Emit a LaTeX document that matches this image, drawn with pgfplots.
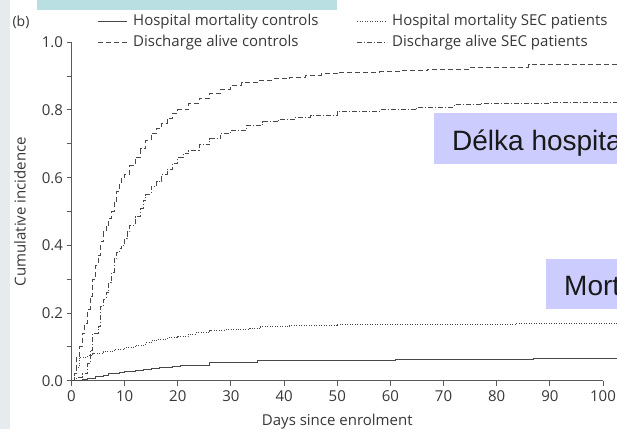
\documentclass[border=0pt]{standalone}
\usepackage{fontspec}
\setmainfont{Open Sans}
\newfontfamily\arialfont{Liberation Sans}
\usepackage{pgfplots}
\pgfplotsset{compat=1.18}
\definecolor{txt}{HTML}{383838}
\definecolor{crv}{HTML}{484848}
\definecolor{axc}{HTML}{5A5A5A}
\definecolor{teal}{HTML}{B9DFE3}
\definecolor{band}{HTML}{E6EBEE}
\definecolor{lav}{HTML}{CCCCFF}
\tikzset{
  s1/.style={color=crv, line width=1pt, solid},
  s2/.style={color=crv, line width=1pt, dash pattern=on 5pt off 3pt},
  s3/.style={color=crv, line width=1pt, dash pattern=on 1pt off 1.5pt},
  s4/.style={color=crv, line width=1pt, dash pattern=on 5pt off 2pt on 1pt off 2pt},
}
\begin{document}
\begin{tikzpicture}
\useasboundingbox (0,0) rectangle (617pt,-429pt);
\clip (0,0) rectangle (617pt,-429pt);
\begin{scope}[x=1pt,y=-1pt]
  \fill[white] (0,0) rectangle (617,429);
  \fill[band] (0,0) rectangle (10,429);
  \fill[teal] (37,0) rectangle (337,10);
  \node[text=txt, font=\fontsize{14}{16}\selectfont] at (21,22) {(b)};
\end{scope}
\begin{axis}[
  at={(71.5pt,-380.7pt)}, anchor=south west,
  scale only axis, width=531.5pt, height=338.4pt,
  xmin=0, xmax=100, ymin=0, ymax=1,
  axis lines=left,
  axis line style={-, color=axc, line width=1.2pt},
  every outer x axis line/.append style={-},
  every outer y axis line/.append style={-},
  clip=false,
  xtick={0,10,20,30,40,50,60,70,80,90,100},
  ytick={0,0.2,0.4,0.6,0.8,1},
  minor ytick={0.1,0.3,0.5,0.7,0.9},
  tick align=outside,
  major tick length=5pt, minor tick length=5pt,
  tick style={color=axc, line width=1pt},
  /pgf/number format/assume math mode=true,
  yticklabel style={/pgf/number format/.cd, fixed, fixed zerofill, precision=1},
  ticklabel style={text=txt, font=\fontsize{15}{17}\selectfont},
  xticklabel style={yshift=-1pt},
  xlabel={Days since enrolment},
  ylabel={Cumulative incidence},
  label style={text=txt, font=\fontsize{15}{17}\selectfont},
  xlabel style={at={(axis description cs:0.5,-0.12)}, anchor=center},
  ylabel style={at={(axis description cs:-0.097,0.5)}, anchor=center},
]
% Hospital mortality controls
\addplot[s1, const plot] coordinates {
(0,0) (2,0.003) (3,0.006) (4.5,0.012) (6,0.016) (7,0.02) (9,0.024) (10,0.027)
(12,0.03) (13.5,0.034) (15,0.037) (16.5,0.04) (19,0.043) (20.5,0.044) (26,0.053)
(35,0.059) (61,0.064) (87,0.066) (103,0.066)};
% Discharge alive controls
\addplot[s2, const plot] coordinates {
(0,0) (0.5,0.02) (1,0.07) (1.5,0.10) (2,0.14) (2.5,0.17) (3,0.21) (3.5,0.25)
(4,0.30) (4.5,0.34) (5,0.37) (5.5,0.41) (6,0.44) (6.5,0.46) (7,0.48) (7.5,0.50)
(8,0.53) (8.5,0.56) (9,0.58) (9.5,0.60) (10,0.61) (11,0.635) (12,0.66) (13,0.685)
(14,0.71) (15,0.73) (16,0.745) (17,0.76) (18,0.775) (19,0.79) (20,0.80) (22,0.82)
(24,0.835) (26,0.85) (28,0.862) (30,0.873) (32,0.882) (35,0.888) (38,0.892)
(41,0.896) (44,0.902) (47,0.907) (50,0.911) (58,0.913) (62,0.916) (67,0.92)
(75,0.925) (86,0.933) (103,0.933)};
% Hospital mortality SEC patients
\addplot[s3, const plot] coordinates {
(0,0) (0.5,0.02) (1,0.04) (1.5,0.07) (3,0.075) (4,0.08) (6,0.086) (8,0.092)
(10,0.098) (12,0.105) (14,0.112) (15,0.118) (16,0.122) (18,0.127) (20,0.13)
(22,0.138) (23.5,0.143) (26,0.148) (29,0.150) (31,0.152) (33.5,0.155) (35.5,0.16)
(41,0.163) (50,0.167) (83.6,0.17) (103,0.17)};
% Discharge alive SEC patients
\addplot[s4, const plot] coordinates {
(0,0) (1,0.01) (2,0.02) (3,0.05) (3.5,0.09) (4,0.14) (5,0.16) (5.5,0.22) (6,0.24)
(6.5,0.26) (7,0.29) (7.5,0.32) (8,0.36) (8.5,0.38) (9,0.39) (9.5,0.40) (10,0.42)
(10.5,0.44) (11,0.46) (12,0.485) (13,0.51) (13.5,0.534) (14,0.55) (15,0.575)
(16,0.59) (17,0.61) (18,0.625) (19,0.642) (20,0.66) (21,0.67) (22,0.68)
(24,0.697) (26,0.715) (28,0.73) (30,0.74) (33,0.755) (36,0.765) (39,0.772)
(42,0.778) (45,0.785) (50,0.795) (58,0.80) (65,0.808) (72,0.815) (77,0.82)
(90,0.823) (103,0.826)};
\end{axis}
\begin{scope}[x=1pt,y=-1pt]
  % legend
  \draw[s1] (98,21.5) -- (127,21.5);
  \draw[s2] (98,42.3) -- (127,42.3);
  \draw[s3] (357,21.5) -- (387,21.5);
  \draw[s4] (357,42.3) -- (387,42.3);
  \begin{scope}[every node/.style={anchor=west, inner sep=0pt, text=txt, font=\fontsize{15}{17}\selectfont}]
    \node at (133,21.5) {Hospital mortality controls};
    \node at (133,42.3) {Discharge alive controls};
    \node at (392,21.5) {Hospital mortality SEC patients};
    \node at (392,42.3) {Discharge alive SEC patients};
  \end{scope}
  % overlay boxes
  \fill[lav] (434,113) rectangle (640,164);
  \node[anchor=base west, inner sep=0pt, text=black!90, font=\arialfont\fontsize{28}{32}\selectfont] at (452,150) {Délka hospitalizace};
  \fill[lav] (546,259) rectangle (640,309);
  \node[anchor=base west, inner sep=0pt, text=black!90, font=\arialfont\fontsize{28}{32}\selectfont] at (564,295) {Mortalita};
\end{scope}
\end{tikzpicture}
\end{document}
